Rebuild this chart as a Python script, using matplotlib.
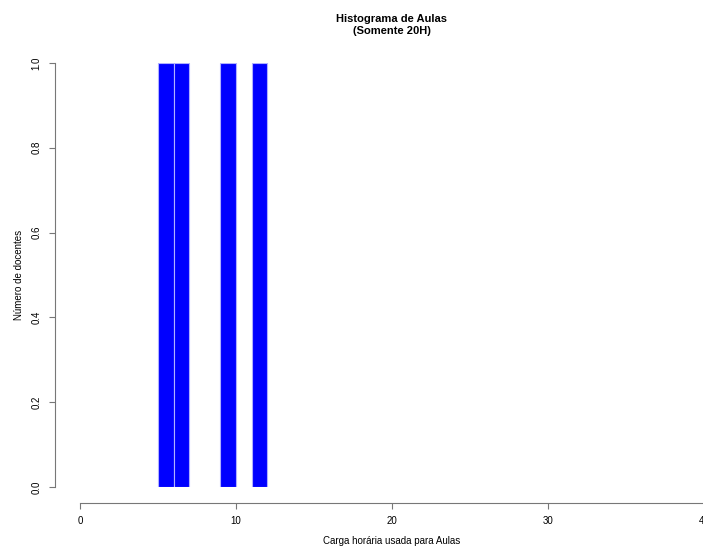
import matplotlib
matplotlib.use("Agg")
import matplotlib.pyplot as plt
import numpy as np

# Data
values = [5.5, 6.5, 9.5, 11.5]
bin_edges = list(range(5, 13))
x_ticks = [0, 10, 20, 30, 40]
y_ticks = [0.0, 0.2, 0.4, 0.6, 0.8, 1.0]
title = "Histograma de Aulas\n(Somente 20H)"
xlabel = "Carga horária usada para Aulas"
ylabel = "Número de docentes"

plt.rcParams['font.family'] = ['Liberation Sans', 'DejaVu Sans']

W, H = 703, 547
fig = plt.figure(figsize=(W / 100, H / 100), dpi=100)
ax = fig.add_axes([80 / W, (H - 487) / H, 624 / W, (487 - 63) / H])

counts, edges, patches = ax.hist(values, bins=bin_edges, color='#0000ff',
                                 edgecolor='#b0b0ff', linewidth=0.8)
for c, p in zip(counts, patches):
    if c == 0:
        p.set_visible(False)

ax.set_xlim(0, 40)
ax.set_ylim(0, 1)

for s in ['top', 'right']:
    ax.spines[s].set_visible(False)
ax.spines['left'].set_position(('outward', 18))
ax.spines['bottom'].set_position(('outward', 11.5))
ax.spines['left'].set_bounds(0, 1)
ax.spines['bottom'].set_bounds(0, 40)
for s in ['left', 'bottom']:
    ax.spines[s].set_color('#777777')
    ax.spines[s].set_linewidth(0.8)

ax.set_xticks(x_ticks)
ax.set_xticklabels([str(t) for t in x_ticks])
ax.set_yticks(y_ticks)
ax.set_yticklabels([f"{t:.1f}" for t in y_ticks], rotation=90, va='center')
ax.tick_params(axis='both', labelsize=7, length=4.5, width=0.8, color='#777777', pad=5)

ax.set_title(title, fontsize=8, fontweight='bold', pad=21)
fig.text(392 / W, 1 - 541 / H, xlabel, ha='center', va='center', fontsize=7)
fig.text(19 / W, 1 - 275 / H, ylabel, ha='center', va='center', rotation=90, fontsize=7)

fig.savefig("out.png", dpi=100)
